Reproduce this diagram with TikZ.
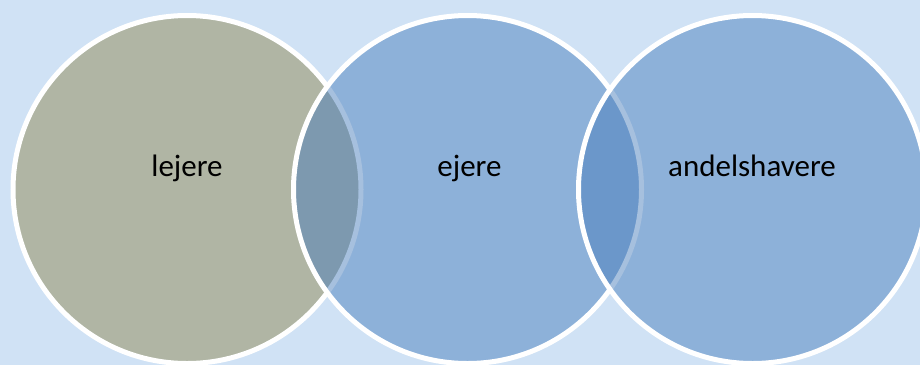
\documentclass[tikz,border=0pt]{standalone}
\usepackage{fontspec}
\setmainfont{Carlito}
\definecolor{bgblue}{RGB}{208,226,245}
\definecolor{olivefill}{RGB}{143,134,76}
\definecolor{bluefill}{RGB}{70,124,187}
\tikzset{
  venn/.style={fill opacity=0.48, draw=white, draw opacity=1, line width=5pt},
  vlabel/.style={anchor=base, text=black, font=\fontsize{31}{37}\selectfont, inner sep=0pt}
}
\begin{document}
\begin{tikzpicture}[x=1pt,y=-1pt]
  % background panel
  \fill[bgblue] (0,0) rectangle (920,365);
  \useasboundingbox (0,0) rectangle (920,365);
  % overlapping circles, each drawn over the previous one
  \path[venn, fill=olivefill] (187,189.5) circle[radius=174];
  \path[venn, fill=bluefill] (467.5,189.5) circle[radius=174];
  \path[venn, fill=bluefill] (752.5,189.5) circle[radius=174];
  % labels
  \node[vlabel] (lejere) at (187,176) {lejere};
  \node[vlabel] (ejere) at (469.5,176) {ejere};
  \node[vlabel] (andelshavere) at (752,176) {andelshavere};
\end{tikzpicture}
\end{document}
